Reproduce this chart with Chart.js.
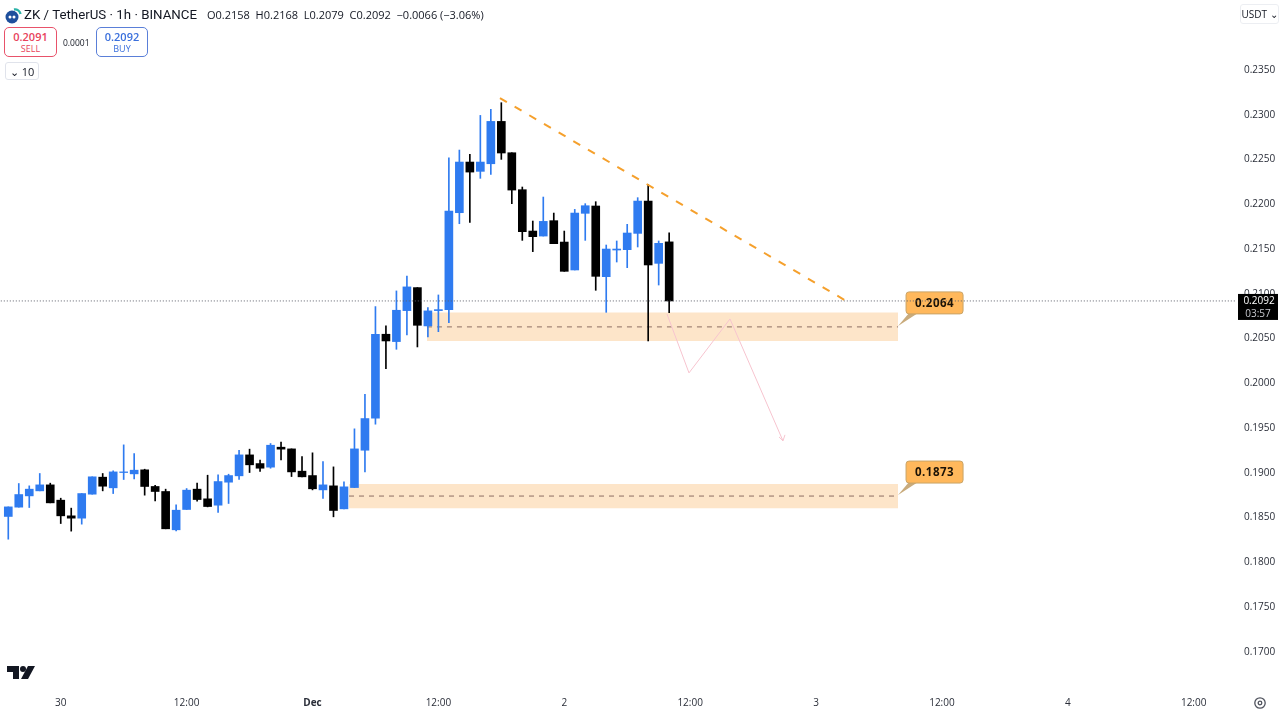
<!DOCTYPE html>
<html>
<head>
<meta charset="utf-8">
<title>ZK / TetherUS</title>
<script src="https://cdn.jsdelivr.net/npm/chart.js@4"></script>
<style>
    body { margin: 0; background: #fff; font-family: "Open Sans", sans-serif; color: #131722; }
    #wrap { position: relative; width: 1280px; height: 714px; overflow: hidden; }
    canvas { position: absolute; left: 0; top: 0; }
    .abs { position: absolute; white-space: nowrap; }
    .box { position: absolute; box-sizing: border-box; background: #fff; text-align: center; border-radius: 5px; }
    .box b { display: block; font-weight: 600; font-size: 11px; line-height: 13px; margin-top: 2px; }
    .box span { display: block; font-size: 9px; line-height: 11px; }
</style>
</head>
<body>
<div id="wrap">
    <canvas id="chart" width="1280" height="714"></canvas>

    <svg class="abs" style="left:5px;top:6px" width="18" height="18" viewBox="0 0 18 18">
        <circle cx="7" cy="11" r="6.5" fill="#1e4f9c"/>
        <circle cx="5" cy="11" r="1.5" fill="#fff"/>
        <circle cx="9" cy="11" r="1.5" fill="#fff"/>
        <path d="M9 3.5 A5.5 5.5 0 0 1 15.5 8" fill="none" stroke="#2bb3a8" stroke-width="2.4"/>
    </svg>
    <div class="abs" style="left:24px;top:5px;font-family:Roboto;font-size:13.3px;line-height:19px">ZK / TetherUS · 1h · BINANCE</div>
    <div class="abs" style="left:207px;top:6px;font-size:11px;line-height:17px">O0.2158&nbsp; H0.2168&nbsp; L0.2079&nbsp; C0.2092&nbsp; −0.0066 (−3.06%)</div>

    <div class="box" style="left:4px;top:27px;width:53px;height:30px;border:1px solid #e8526a;color:#e8435c"><b>0.2091</b><span>SELL</span></div>
    <div class="abs" style="left:63px;top:37px;font-size:8.5px;line-height:12px">0.0001</div>
    <div class="box" style="left:96px;top:27px;width:52px;height:30px;border:1px solid #5a7fd8;color:#3a6fdc"><b>0.2092</b><span>BUY</span></div>
    <div class="box" style="left:5px;top:62px;width:34px;height:18px;border:1px solid #e0e3eb;border-radius:3px;font-size:11px;line-height:17px">⌄ 10</div>

    <div class="box" style="left:1240px;top:4px;width:39px;height:20px;border:1px solid #eceef2;border-radius:3px;font-size:10px;line-height:18px">USDT ⌄</div>

    <svg class="abs" style="left:7px;top:666px" width="28" height="14" viewBox="0 0 28 14">
        <path d="M0 0H12V13H6V6H0Z" fill="#131722"/>
        <circle cx="16" cy="3" r="3" fill="#131722"/>
        <path d="M21 0H28L21 13H14Z" fill="#131722"/>
    </svg>
    <svg class="abs" style="left:1253px;top:696px" width="14" height="14" viewBox="0 0 14 14">
        <circle cx="7" cy="7" r="5.2" fill="none" stroke="#50535e" stroke-width="1.3"/>
        <circle cx="7" cy="7" r="1.8" fill="none" stroke="#50535e" stroke-width="1.3"/>
    </svg>
</div>

<script>
// hour 0 is 30 Nov 00:00, first visible candle is 5 hours earlier
const firstHour = -5;

const opens = [
    0.18512, 0.18616, 0.18742, 0.18798, 0.18865, 0.18694, 0.18519, 0.18493, 0.18761, 0.18951,
    0.18832, 0.19003, 0.18988, 0.19033, 0.18847, 0.18791, 0.18363, 0.18590, 0.18817, 0.18709,
    0.18638, 0.18895, 0.18966, 0.19200, 0.19103, 0.19063, 0.19286, 0.19267, 0.19018, 0.18969,
    0.18809, 0.18854, 0.18597, 0.18835, 0.19252, 0.19610, 0.20548, 0.20466, 0.20812, 0.21069,
    0.20641, 0.20812, 0.20823, 0.21906, 0.22472, 0.22368, 0.22453, 0.22926, 0.22576, 0.22163,
    0.21701, 0.21645, 0.21817, 0.21578, 0.21266, 0.21899, 0.21981, 0.21191, 0.21489, 0.21493,
    0.21675, 0.22036, 0.21340, 0.2158
];
const highs = [
    0.18619, 0.18880, 0.18854, 0.18992, 0.18884, 0.18716, 0.18605, 0.18768, 0.18955, 0.18992,
    0.19022, 0.19312, 0.19215, 0.19040, 0.18861, 0.18817, 0.18642, 0.18824, 0.18884, 0.18973,
    0.18977, 0.18984, 0.19252, 0.19264, 0.19141, 0.19327, 0.19342, 0.19267, 0.19182, 0.19223,
    0.19126, 0.19066, 0.18899, 0.19491, 0.19878, 0.20857, 0.20641, 0.21032, 0.21199, 0.21069,
    0.20846, 0.20987, 0.22520, 0.22606, 0.22558, 0.22993, 0.23060, 0.23135, 0.22576, 0.22193,
    0.21813, 0.22081, 0.21902, 0.21701, 0.21943, 0.22007, 0.22029, 0.21545, 0.21590, 0.21776,
    0.22074, 0.22223, 0.21590, 0.2168
];
const lows = [
    0.18258, 0.18616, 0.18612, 0.18798, 0.18664, 0.18433, 0.18348, 0.18426, 0.18761, 0.18798,
    0.18768, 0.18925, 0.18932, 0.18750, 0.18686, 0.18374, 0.18351, 0.18590, 0.18683, 0.18619,
    0.18556, 0.18657, 0.18925, 0.19003, 0.19014, 0.19051, 0.19144, 0.18958, 0.18955, 0.18809,
    0.18713, 0.18508, 0.18597, 0.18835, 0.19010, 0.19543, 0.20164, 0.20380, 0.20540, 0.20406,
    0.20518, 0.20577, 0.20678, 0.21783, 0.21798, 0.22290, 0.22334, 0.22502, 0.22007, 0.21597,
    0.21471, 0.21645, 0.21560, 0.21251, 0.21266, 0.21597, 0.21039, 0.20793, 0.21355, 0.21292,
    0.21523, 0.20473, 0.21098, 0.2079
];
const closes = [
    0.18619, 0.18757, 0.18817, 0.18865, 0.18664, 0.18519, 0.18493, 0.18768, 0.18955, 0.18850,
    0.19010, 0.19010, 0.19029, 0.18847, 0.18791, 0.18374, 0.18582, 0.18806, 0.18701, 0.18623,
    0.18902, 0.18969, 0.19200, 0.19089, 0.19051, 0.19308, 0.19264, 0.19010, 0.18955, 0.18821,
    0.18865, 0.18579, 0.18843, 0.19267, 0.19606, 0.20548, 0.20473, 0.20816, 0.21077, 0.20648,
    0.20809, 0.20823, 0.21925, 0.22472, 0.22360, 0.22472, 0.22926, 0.22573, 0.22159, 0.21694,
    0.21638, 0.21809, 0.21560, 0.21251, 0.21902, 0.21984, 0.21195, 0.21500, 0.21500, 0.21679,
    0.22036, 0.21322, 0.21564, 0.2092
];

const priceTicks = [0.235, 0.23, 0.225, 0.22, 0.215, 0.21, 0.205, 0.2, 0.195, 0.19, 0.185, 0.18, 0.175, 0.17];
const timeTicks = [0, 12, 24, 36, 48, 60, 72, 84, 96, 108];
const timeLabels = ['30', '12:00', 'Dec', '12:00', '2', '12:00', '3', '12:00', '4', '12:00'];

const lastPrice = 0.2092;
const countdown = '03:57';

// drawings: [hour, price]
const trendLine = [[41.87, 0.23187], [75.2, 0.20898]];
const pathLine = [[57.79, 0.20775], [59.89, 0.20116], [63.8, 0.20719], [68.85, 0.19357]];
const arrowHead = [[68.47, 0.19401], [68.85, 0.19357], [69.04, 0.19424]];
const zoneStarts = [34.91, 27.48];
const zoneEnd = 79.82;
const zoneTops = [0.2079, 0.18875];
const zoneBottoms = [0.20473, 0.18605];
const zoneMids = [0.2063, 0.1874];
const zoneLabels = ['0.2064', '0.1873'];

const BLUE = '#2f7bf0';
const BLACK = '#000000';
const ZONE_FILL = 'rgba(248, 150, 40, 0.25)';
const TEXT = '#2a2e39';

const hours = opens.map((_, i) => firstHour + i);
const candleColors = opens.map((o, i) => closes[i] >= o ? BLUE : BLACK);

function toPoints(list) {
    return list.map(p => ({ x: p[0], y: p[1] }));
}

function lineSet(points, color, width, dash, order, extra) {
    return Object.assign({
        type: 'line',
        data: points,
        borderColor: color,
        borderWidth: width,
        borderDash: dash,
        pointRadius: 0,
        tension: 0,
        fill: false,
        order: order
    }, extra);
}

const datasets = [
    {
        label: 'wicks',
        data: hours.map((h, i) => ({ x: h, y: [lows[i], highs[i]] })),
        backgroundColor: candleColors,
        barThickness: 1,
        grouped: false,
        order: 7
    },
    {
        label: 'bodies',
        data: hours.map((h, i) => ({ x: h, y: [opens[i], closes[i]] })),
        backgroundColor: candleColors,
        barThickness: 8,
        grouped: false,
        order: 6
    }
];

// zones: top edge fills down to the bottom edge, which is the next dataset
zoneStarts.forEach((start, z) => {
    datasets.push(lineSet([{ x: start, y: zoneTops[z] }, { x: zoneEnd, y: zoneTops[z] }], 'transparent', 0, [], 10, { fill: '+1', backgroundColor: ZONE_FILL }));
    datasets.push(lineSet([{ x: start, y: zoneBottoms[z] }, { x: zoneEnd, y: zoneBottoms[z] }], 'transparent', 0, [], 10));
    datasets.push(lineSet([{ x: start, y: zoneMids[z] }, { x: zoneEnd, y: zoneMids[z] }], '#8d6e63', 1, [5, 5], 9));
});

datasets.push(lineSet(toPoints(trendLine), '#f5a02c', 2, [8, 9], 4));
datasets.push(lineSet(toPoints(pathLine), '#f7c4cf', 1, [], 4));
datasets.push(lineSet(toPoints(arrowHead), '#f7c4cf', 1, [], 4));
datasets.push(lineSet([{ x: -6, y: lastPrice }, { x: 112, y: lastPrice }], '#5d606b', 1, [1, 2], 3));

function drawCallout(ctx, ax, ay, text) {
    const x = ax + 8, y = ay - 34, w = 57, h = 22;
    ctx.save();
    ctx.fillStyle = '#c9ab7c';
    ctx.beginPath();
    ctx.moveTo(ax, ay);
    ctx.lineTo(x + 3, y + h - 1);
    ctx.lineTo(x + 12, y + h - 1);
    ctx.closePath();
    ctx.fill();
    ctx.beginPath();
    ctx.roundRect(x, y, w, h, 3);
    ctx.fillStyle = '#ffb85c';
    ctx.fill();
    ctx.lineWidth = 1;
    ctx.strokeStyle = '#c9a467';
    ctx.stroke();
    ctx.fillStyle = '#1a1206';
    ctx.font = '700 11.5px "Open Sans"';
    ctx.letterSpacing = '0.5px';
    ctx.textAlign = 'center';
    ctx.textBaseline = 'middle';
    ctx.fillText(text, x + w / 2, y + h / 2 + 1);
    ctx.restore();
}

const overlayPlugin = {
    id: 'overlay',
    beforeDatasetsDraw(chart) {
        const xs = chart.scales.x, ys = chart.scales.y;
        zoneMids.forEach((mid, z) => {
            drawCallout(chart.ctx, xs.getPixelForValue(zoneEnd), ys.getPixelForValue(mid) - 1, zoneLabels[z]);
        });
    },
    afterDraw(chart) {
        // last price tag sits on top of the 0.2100 axis label
        const ctx = chart.ctx;
        const py = chart.scales.y.getPixelForValue(lastPrice);
        ctx.save();
        ctx.fillStyle = '#000';
        ctx.fillRect(1238, py - 7, 40, 26);
        ctx.textAlign = 'center';
        ctx.textBaseline = 'middle';
        ctx.font = '10px "Open Sans"';
        ctx.fillStyle = '#fff';
        ctx.fillText(lastPrice.toFixed(4), 1259, py);
        ctx.fillStyle = '#c8cad0';
        ctx.fillText(countdown, 1258, py + 13);
        ctx.restore();
    }
};

new Chart(document.getElementById('chart').getContext('2d'), {
    type: 'bar',
    data: { datasets: datasets },
    plugins: [overlayPlugin],
    options: {
        responsive: false,
        animation: false,
        events: [],
        layout: { padding: 0, autoPadding: false },
        plugins: { legend: { display: false }, tooltip: { enabled: false } },
        scales: {
            x: {
                type: 'linear',
                offset: false,
                min: -5.79,
                max: 111.94,
                grid: { display: false, drawTicks: false },
                border: { display: false },
                afterBuildTicks: s => { s.ticks = timeTicks.map(v => ({ value: v })); },
                afterFit: s => { s.height = 24; },
                ticks: {
                    autoSkip: false,
                    maxRotation: 0,
                    padding: 7,
                    color: TEXT,
                    font: ctx => ({ family: 'Open Sans', size: 10, weight: timeLabels[ctx.index] === 'Dec' ? '700' : '400' }),
                    callback: (v, i) => timeLabels[i]
                }
            },
            y: {
                position: 'right',
                min: 0.16573,
                max: 0.24115,
                grid: { display: false, drawTicks: false },
                border: { display: false },
                afterBuildTicks: s => { s.ticks = priceTicks.map(v => ({ value: v })); },
                afterFit: s => { s.width = 45; },
                ticks: {
                    padding: 9,
                    color: TEXT,
                    font: { family: 'Open Sans', size: 10 },
                    callback: v => Number(v).toFixed(4)
                }
            }
        }
    }
});
</script>
</body>
</html>
